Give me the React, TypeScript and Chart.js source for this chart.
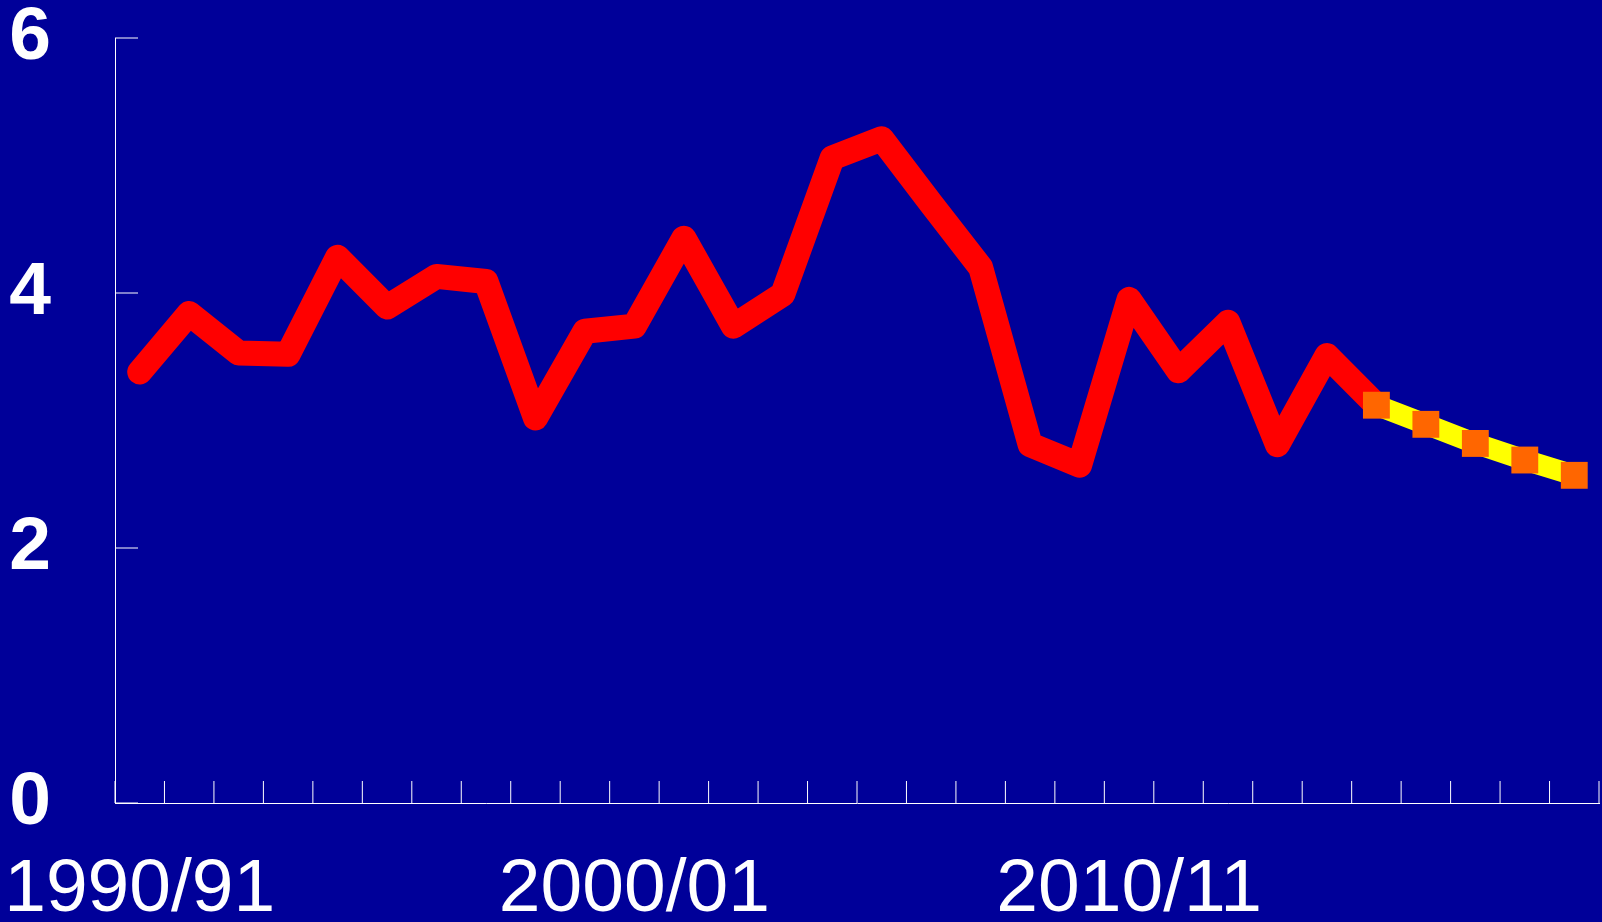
import { useEffect, useRef } from 'react';
import { Chart, registerables } from 'chart.js';

Chart.register(...registerables);

const categories = [
  '1990/91', '1991/92', '1992/93', '1993/94', '1994/95', '1995/96', '1996/97', '1997/98', '1998/99', '1999/00',
  '2000/01', '2001/02', '2002/03', '2003/04', '2004/05', '2005/06', '2006/07', '2007/08', '2008/09', '2009/10',
  '2010/11', '2011/12', '2012/13', '2013/14', '2014/15', '2015/16', '2016/17', '2017/18', '2018/19', '2019/20',
];

const actual = [
  3.38, 3.84, 3.53, 3.52, 4.28, 3.89, 4.13, 4.09, 3.02, 3.70,
  3.74, 4.43, 3.74, 3.99, 5.06, 5.21, 4.70, 4.20, 2.81, 2.65,
  3.95, 3.39, 3.77, 2.81, 3.51, 3.12, null, null, null, null,
];

const projection = [
  null, null, null, null, null, null, null, null, null, null,
  null, null, null, null, null, null, null, null, null, null,
  null, null, null, null, null, 3.12, 2.97, 2.82, 2.69, 2.57,
];

const yTickValues = [0, 2, 4, 6];
const xLabelEvery = 10;

const BG = '#000099';
const FONT = "'Liberation Sans', Arial, sans-serif";

const innerTicks = {
  id: 'innerTicks',
  beforeDatasetsDraw(chart: any) {
    const { ctx } = chart;
    const x = chart.scales.x;
    const y = chart.scales.y;
    ctx.save();
    ctx.strokeStyle = '#ffffff';
    ctx.lineWidth = 1;
    ctx.beginPath();
    const n = categories.length;
    for (let i = 0; i <= n; i++) {
      let px: number;
      if (i === 0) px = x.left;
      else if (i === n) px = x.right;
      else px = (x.getPixelForValue(i - 1) + x.getPixelForValue(i)) / 2;
      ctx.moveTo(px, y.bottom);
      ctx.lineTo(px, y.bottom - 22);
    }
    for (const v of yTickValues) {
      const py = y.getPixelForValue(v);
      ctx.moveTo(x.left, py);
      ctx.lineTo(x.left + 23, py);
    }
    ctx.stroke();
    ctx.restore();
  },
};

export default function App() {
  const ref = useRef<HTMLCanvasElement | null>(null);

  useEffect(() => {
    document.body.style.margin = '0';
    const canvas = ref.current;
    if (!canvas) return;
    const chart = new Chart(canvas, {
      type: 'line',
      data: {
        labels: categories,
        datasets: [
          {
            data: actual,
            borderColor: '#ff0000',
            borderWidth: 25,
            borderCapStyle: 'round',
            borderJoinStyle: 'round',
            pointRadius: 0,
            pointHoverRadius: 0,
            fill: false,
            tension: 0,
            order: 2,
          },
          {
            data: projection,
            borderColor: '#ffff00',
            borderWidth: 21,
            borderCapStyle: 'butt',
            borderJoinStyle: 'miter',
            pointStyle: 'rect',
            pointRadius: 19,
            pointHoverRadius: 19,
            pointBackgroundColor: '#ff6600',
            pointBorderWidth: 0,
            pointBorderColor: '#ff6600',
            fill: false,
            tension: 0,
            order: 1,
          },
        ],
      },
      options: {
        responsive: false,
        animation: false,
        events: [],
        layout: { autoPadding: false, padding: { top: 38, right: 3, left: 0, bottom: 0 } },
        plugins: {
          legend: { display: false },
          tooltip: { enabled: false },
          title: { display: false },
        },
        scales: {
          x: {
            type: 'category',
            offset: true,
            grid: { display: false, drawTicks: false },
            border: { display: true, color: '#ffffff', width: 1 },
            ticks: {
              autoSkip: false,
              maxRotation: 0,
              minRotation: 0,
              color: '#ffffff',
              padding: 42,
              font: { family: FONT, size: 75, weight: 'normal' },
              callback: (_v: any, i: number) => (i % xLabelEvery === 0 ? categories[i] : ''),
            },
            afterFit: (s: any) => {
              s.height = 119;
              s.paddingLeft = 0;
              s.paddingRight = 0;
              s.paddingTop = 0;
              s.paddingBottom = 0;
            },
          },
          y: {
            min: 0,
            max: 6,
            grid: { display: false, drawTicks: false },
            border: { display: true, color: '#ffffff', width: 1 },
            afterBuildTicks: (s: any) => {
              s.ticks = yTickValues.map((v) => ({ value: v }));
            },
            ticks: {
              color: '#ffffff',
              padding: 64,
              font: { family: FONT, size: 75, weight: 'bold' },
            },
            afterFit: (s: any) => {
              s.width = 115;
              s.paddingLeft = 0;
              s.paddingRight = 0;
              s.paddingTop = 0;
              s.paddingBottom = 0;
            },
          },
        },
      },
      plugins: [innerTicks],
    });
    return () => chart.destroy();
  }, []);

  return (
    <div style={{ position: 'fixed', left: 0, top: 0, width: 1602, height: 922, background: BG }}>
      <canvas ref={ref} width={1602} height={922} style={{ display: 'block' }} />
    </div>
  );
}
